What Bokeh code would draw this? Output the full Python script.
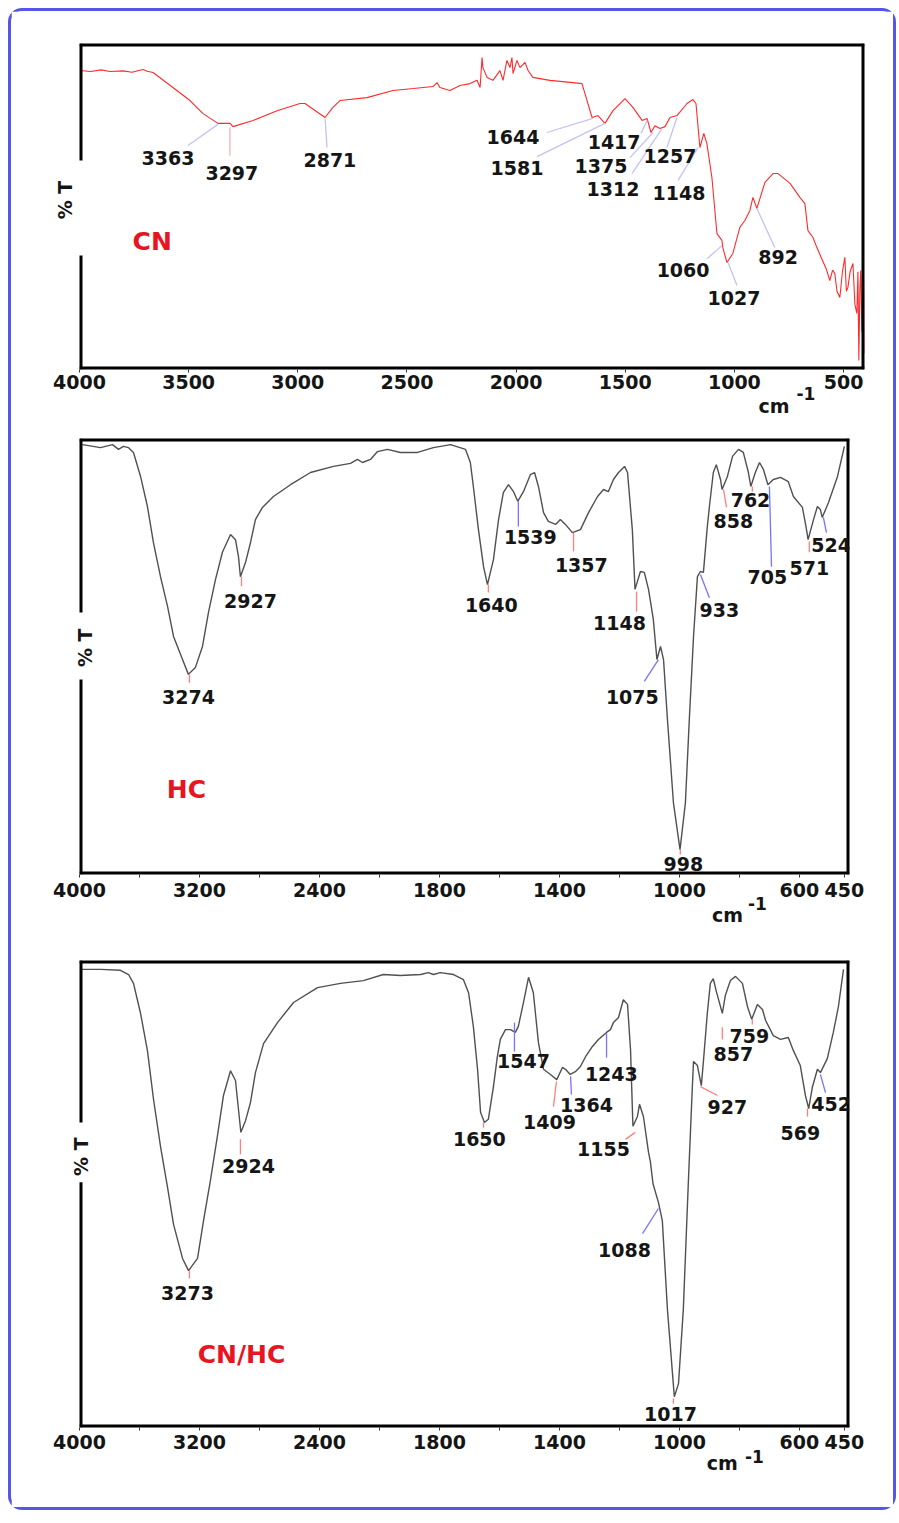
import numpy as np
from bokeh.plotting import figure
from bokeh.models import Range1d, FixedTicker, ColumnDataSource, LabelSet, Label, LinearAxis
from bokeh.layouts import column
from bokeh.core.properties import value
from bokeh.embed import file_html
from bokeh.resources import INLINE

# ---------------- data (wavenumber cm-1, %T) ----------------
cn_wn = [3998, 3950, 3900, 3860, 3800, 3760, 3709, 3690, 3663, 3572, 3494, 3434, 3366, 3310, 3297, 3205, 3095,
         2990, 2967, 2875, 2839, 2807, 2683, 2564, 2470, 2381, 2362, 2349, 2303, 2257, 2211, 2179, 2165, 2156,
         2152, 2133, 2106, 2074, 2060, 2042, 2028, 2019, 2014, 1996, 1982, 1959, 1945, 1923, 1845, 1739, 1698,
         1675, 1652, 1625, 1593, 1556, 1501, 1465, 1423, 1400, 1382, 1364, 1341, 1318, 1295, 1263, 1217, 1190,
         1176, 1158, 1140, 1126, 1103, 1080, 1057, 1053, 1034, 1007, 975, 952, 929, 915, 897, 860, 823, 800,
         745, 700, 677, 663, 640, 622, 600, 580, 563, 550, 540, 530, 517, 505, 494, 487, 480, 470, 457, 448,
         439, 434, 430, 425, 421, 416, 412, 408, 405]
cn_t = [91.7, 91.4, 91.9, 91.4, 91.6, 91.2, 92.0, 91.5, 91.1, 86.5, 82.5, 78.5, 75.5, 75.5, 74.5, 76.4, 79.4,
        81.6, 81.6, 77.3, 80.4, 82.5, 83.4, 85.6, 86.2, 86.8, 88.0, 86.5, 85.6, 87.1, 87.7, 88.7, 86.5, 95.7,
        92.6, 89.6, 88.7, 91.7, 88.7, 94.8, 92.6, 95.7, 90.8, 94.8, 92.6, 94.2, 91.7, 89.6, 88.7, 88.0, 87.7,
        82.5, 77.3, 77.9, 75.5, 79.4, 83.1, 80.4, 76.4, 77.0, 72.7, 74.8, 73.9, 74.5, 77.3, 77.9, 81.6, 82.8,
        81.6, 68.1, 72.4, 69.3, 58.9, 41.7, 39.6, 37.4, 32.8, 35.6, 43.6, 45.7, 48.8, 52.8, 49.4, 57.4, 60.1, 60.1,
        57.1, 52.8, 50.9, 42.6, 40.5, 37.4, 34.0, 31.0, 27.3, 30.5, 29.4, 24.0, 22.1, 30.0, 34.4, 24.0, 25.2, 30.0, 32.5, 20.0,
        17.2, 30.0, 2.8, 25.0, 30.4, 12.0, 11.0, 28.0, 5.0]
cn_peaks = ["3363", "3297", "2871", "1644", "1581", "1417", "1375", "1312", "1257", "1148", "1060", "1027", "892"]

hc_wn = [3980, 3860, 3780, 3740, 3707, 3673, 3640, 3593, 3547, 3507, 3460, 3413, 3373, 3313, 3274, 3227, 3180,
         3140, 3093, 3047, 2993, 2960, 2940, 2927, 2893, 2860, 2827, 2780, 2707, 2593, 2460, 2307, 2193, 2147,
         2113, 2060, 2013, 1973, 1930, 1873, 1820, 1763, 1713, 1697, 1687, 1670, 1653, 1640, 1620, 1603, 1587,
         1570, 1553, 1539, 1520, 1497, 1483, 1470, 1453, 1437, 1413, 1397, 1380, 1357, 1330, 1303, 1273, 1253,
         1237, 1220, 1203, 1183, 1173, 1157, 1148, 1130, 1117, 1103, 1087, 1075, 1063, 1053, 1040, 1020, 998,
         980, 967, 953, 940, 930, 920, 907, 900, 887, 877, 863, 858, 840, 823, 803, 787, 770, 762, 747, 733,
         720, 705, 687, 663, 637, 620, 590, 578, 571, 553, 540, 530, 524, 503, 473, 450]
hc_t = [98.6, 97.9, 98.6, 97.5, 98.2, 97.9, 96.8, 91.3, 84.4, 76.1, 68.3, 61.5, 54.6, 49.3, 45.9, 47.5, 52.3,
        60.1, 67.7, 73.9, 78.0, 76.8, 72.9, 68.3, 71.6, 76.1, 81.4, 84.2, 86.7, 89.4, 92.2, 93.6, 94.3, 95.2,
        94.5, 95.2, 97.0, 97.5, 96.8, 96.8, 97.9, 98.6, 97.5, 94.5, 89.0, 79.1, 70.6, 66.5, 72.2, 81.4, 87.6,
        89.4, 87.8, 85.6, 87.8, 91.7, 92.2, 89.0, 83.0, 81.0, 80.3, 81.4, 80.3, 78.4, 79.1, 83.0, 86.7, 88.3,
        87.8, 90.6, 92.2, 93.6, 92.2, 79.1, 65.4, 69.5, 69.3, 65.4, 58.5, 49.3, 52.3, 49.3, 35.6, 16.5, 5.7,
        16.5, 35.6, 54.6, 68.3, 69.5, 69.3, 79.8, 84.4, 92.2, 94.0, 90.6, 88.3, 91.3, 95.9, 97.5, 96.8, 92.2, 89.0, 92.2, 94.5,
        92.9, 89.4, 90.6, 91.1, 90.1, 86.7, 84.2, 79.8, 76.8, 81.4, 84.4, 83.7, 81.9, 85.3, 91.3, 98.2]
hc_peaks = ["3274", "2927", "1640", "1539", "1357", "1148", "1075", "998", "933", "858", "762", "705", "571", "524"]

cnhc_wn = [3993, 3860, 3727, 3673, 3640, 3593, 3547, 3507, 3460, 3413, 3373, 3313, 3273, 3213, 3173, 3127, 3080,
           3040, 2993, 2960, 2940, 2924, 2893, 2860, 2827, 2773, 2680, 2573, 2413, 2260, 2107, 1987, 1930, 1863,
           1837, 1820, 1797, 1753, 1720, 1703, 1687, 1673, 1663, 1650, 1637, 1620, 1607, 1597, 1580, 1563, 1547,
           1537, 1520, 1503, 1487, 1470, 1453, 1430, 1409, 1390, 1380, 1364, 1347, 1330, 1313, 1290, 1270, 1243,
           1230, 1220, 1203, 1187, 1173, 1163, 1155, 1140, 1133, 1120, 1103, 1097, 1088, 1070, 1057, 1040, 1017,
           1003, 987, 970, 957, 953, 940, 927, 920, 907, 897, 887, 877, 857, 847, 830, 813, 790, 773, 759, 740,
           723, 713, 687, 663, 637, 620, 597, 580, 569, 557, 540, 530, 507, 487, 470, 453]
cnhc_t = [98.1, 98.1, 97.9, 97.0, 95.1, 88.7, 80.7, 70.4, 60.2, 51.4, 43.5, 36.2, 33.6, 36.2, 44.3, 52.9, 62.5,
          71.1, 76.4, 74.3, 68.1, 63.2, 65.7, 69.6, 76.0, 82.2, 86.7, 91.0, 94.2, 95.1, 95.7, 97.0, 96.8, 97.0,
          97.4, 97.0, 97.4, 97.0, 95.9, 93.1, 85.9, 76.7, 67.5, 65.3, 66.0, 73.0, 79.4, 83.1, 85.2, 85.2, 84.6,
          85.9, 91.0, 96.4, 93.1, 82.4, 76.7, 75.6, 74.5, 77.1, 76.7, 75.6, 76.2, 77.3, 79.4, 81.6, 83.1, 84.6,
          85.2, 86.7, 87.8, 91.6, 90.6, 80.9, 64.5, 66.6, 69.2, 66.6, 58.9, 57.0, 52.2, 48.2, 44.3, 25.3, 6.6,
          9.4, 25.3, 52.9, 72.8, 78.4, 77.5, 73.2, 78.4, 88.7, 95.1, 96.1, 93.4, 88.7, 92.5, 95.7, 96.6, 95.1, 90.1, 87.4, 90.6,
          89.5, 87.2, 83.9, 83.1, 83.5, 80.7, 77.5, 71.1, 68.3, 72.8, 76.7, 76.0, 79.0, 84.6, 90.1, 98.1]
cnhc_peaks = ["3273", "2924", "1650", "1547", "1409", "1364", "1243", "1155", "1088", "1017", "927", "857",
              "759", "569", "452"]

ticks_linear = [4000, 3500, 3000, 2500, 2000, 1500, 1000, 500]
ticks_split = [4000, 3200, 2400, 1800, 1400, 1000, 600, 450]
minor_split = [3600, 2800, 2000, 1600, 1200, 800]

# ---------------- layout / styling (positions of annotations) ----------------
cn_label_pos = [(3595, 65.0), (3302, 60.4), (2853, 64.4), (2014, 71.2), (1996, 61.7), (1551, 69.9), (1611, 62.3),
                (1556, 55.5), (1295, 65.6), (1254, 54.0), (1235, 30.4), (1002, 21.8), (800, 34.4)]
cn_leaders = [(3503, 68.7, 3366, 75.2, "b"), (3311, 74.2, 3311, 65.6, "r"), (2875, 77.0, 2866, 68.1, "b"),
              (1859, 72.7, 1648, 77.0, "b"), (1904, 65.3, 1593, 75.5, "b"), (1428, 72.4, 1400, 76.4, "b"),
              (1478, 65.0, 1373, 72.7, "b"), (1469, 60.1, 1332, 73.9, "b"), (1309, 68.1, 1263, 77.3, "b"),
              (1258, 58.0, 1167, 68.1, "b"), (1125, 34.0, 1057, 38.0, "b"), (1029, 32.8, 988, 25.8, "b"),
              (897, 49.4, 815, 37.4, "b")]
hc_label_pos = [(3273, 40.8), (2860, 62.8), (1627, 61.9), (1497, 77.3), (1327, 70.9), (1200, 57.6), (1157, 40.8),
                (987, 2.5), (867, 60.6), (820, 81.0), (763, 85.8), (707, 68.3), (567, 70.4), (494, 75.5)]
hc_leaders = [(3267, 45.9, 3267, 44.0, "r"), (2920, 68.3, 2920, 66.1, "r"), (1637, 66.5, 1637, 64.7, "r"),
              (1537, 85.6, 1537, 79.8, "b"), (1353, 78.4, 1353, 74.1, "r"), (1143, 64.9, 1143, 60.3, "r"),
              (1070, 49.3, 1117, 44.3, "b"), (997, 5.7, 997, 4.6, "r"), (930, 68.8, 900, 63.5, "b"),
              (853, 88.3, 843, 84.2, "r"), (757, 89.0, 757, 87.8, "r"), (700, 89.0, 693, 70.6, "b"),
              (567, 76.4, 567, 73.9, "r"), (520, 81.9, 510, 78.4, "b")]
cnhc_label_pos = [(3280, 28.7), (2873, 56.1), (1667, 61.7), (1520, 78.4), (1433, 65.5), (1310, 69.0),
                  (1227, 75.8), (1253, 59.7), (1183, 38.1), (1030, 2.8), (840, 68.7), (820, 79.9), (767, 83.9),
                  (597, 63.0), (494, 69.2)]
cnhc_leaders = [(3267, 33.6, 3267, 31.9, "r"), (2927, 61.7, 2927, 58.5, "r"), (1653, 65.3, 1653, 64.2, "r"),
                (1550, 86.7, 1550, 80.5, "b"), (1410, 74.1, 1420, 68.7, "r"), (1363, 75.2, 1360, 71.3, "b"),
                (1243, 84.4, 1243, 79.2, "b"), (1147, 63.2, 1180, 61.7, "r"), (1070, 46.9, 1123, 41.5, "b"),
                (1020, 6.2, 1020, 5.1, "r"), (930, 73.0, 873, 71.1, "r"), (857, 85.7, 857, 83.1, "r"),
                (757, 87.4, 757, 86.3, "r"), (573, 68.3, 573, 66.6, "r"), (530, 75.6, 513, 71.7, "b")]

FONT = "DejaVu Sans"
TXT = "#151515"
NAME_RED = "#e8141f"


def to_u(w):
    """Instrument x-scale: 4000-2000 cm-1 compressed 2x, 2000-450 cm-1 expanded."""
    w = np.asarray(w, dtype=float)
    return np.where(w >= 2000, (4000.0 - w) / 2.0, 1000.0 + (2000.0 - w))


def ident(w):
    return np.asarray(w, dtype=float)


def text_axis(tick, label, size, standoff):
    ax = LinearAxis(ticker=FixedTicker(ticks=[tick]), major_label_overrides={tick: label})
    ax.axis_line_color = None
    ax.major_tick_line_color = None
    ax.minor_tick_line_color = None
    ax.major_tick_out = 0
    ax.major_tick_in = 0
    ax.minor_tick_out = 0
    ax.minor_tick_in = 0
    ax.major_label_standoff = standoff
    ax.major_label_text_font = FONT
    ax.major_label_text_font_style = "bold"
    ax.major_label_text_font_size = size
    ax.major_label_text_color = TXT
    return ax


def build(xmap, x_range, frame_w, frame_h, top, bottom, right, wn, t, line_color, line_w,
          ticks, minor, peaks, label_pos, leaders, lead_cols, name, name_pos, pt, gap, cm,
          standoff):
    p = figure(frame_width=frame_w, frame_height=frame_h, x_range=x_range, y_range=Range1d(0, 100),
               output_backend="svg", toolbar_location=None, min_border_left=68, min_border_right=right,
               min_border_top=top, min_border_bottom=bottom)
    p.outline_line_color = None
    p.grid.visible = False
    p.background_fill_color = "white"
    p.border_fill_color = "white"

    # wavenumber axis
    xa = p.xaxis[0]
    tick_u = [int(round(float(v))) for v in xmap(ticks)]
    minor_u = [int(round(float(v))) for v in xmap(minor)] if minor else []
    xa.ticker = FixedTicker(ticks=tick_u, minor_ticks=minor_u)
    xa.major_label_overrides = {u: str(lab) for u, lab in zip(tick_u, ticks)}
    xa.axis_line_color = None
    xa.major_tick_in = 0
    xa.major_tick_out = 3
    xa.minor_tick_in = 0
    xa.minor_tick_out = 3
    xa.major_tick_line_color = "#333333"
    xa.minor_tick_line_color = "#333333"
    xa.major_label_standoff = standoff
    xa.major_label_text_font = FONT
    xa.major_label_text_font_style = "bold"
    xa.major_label_text_font_size = "19px"
    xa.major_label_text_color = TXT

    # unit label "cm -1" as two text-only axes stacked below
    m1_tick = int(round(float(xmap([cm[2]])[0])))
    cm_tick = int(round(float(xmap([cm[0]])[0])))
    p.add_layout(text_axis(m1_tick, "-1", "17px", cm[3]), "below")
    p.add_layout(text_axis(cm_tick, "cm", "19px", cm[1]), "below")

    # "% T" as a text-only left axis
    ya = p.yaxis[0]
    ya.ticker = FixedTicker(ticks=[pt[0]])
    ya.major_label_overrides = {pt[0]: "% T"}
    ya.major_label_orientation = "parallel"
    ya.axis_line_color = None
    ya.major_tick_line_color = None
    ya.minor_tick_line_color = None
    ya.major_tick_out = 0
    ya.major_tick_in = 0
    ya.minor_tick_out = 0
    ya.major_label_standoff = pt[1]
    ya.major_label_text_font = FONT
    ya.major_label_text_font_style = "bold"
    ya.major_label_text_font_size = "19px"
    ya.major_label_text_color = TXT

    # spectrum
    p.line(xmap(wn), t, line_color=line_color, line_width=line_w)

    # frame (clipped half shows inside the frame) with the gap for "% T"
    x0, x1 = x_range.start, x_range.end
    p.segment(x0=[x0, x0, x1, x0, x0], y0=[100, 0, 0, 0, gap[1]],
              x1=[x1, x1, x1, x0, x0], y1=[100, 0, 100, gap[0], 100],
              line_color="black", line_width=6)

    # leader lines
    lsrc = ColumnDataSource(dict(
        x0=xmap([l[0] for l in leaders]), y0=[l[1] for l in leaders],
        x1=xmap([l[2] for l in leaders]), y1=[l[3] for l in leaders],
        c=[lead_cols[l[4]] for l in leaders]))
    p.segment(x0="x0", y0="y0", x1="x1", y1="y1", line_color="c", line_width=1.3, source=lsrc)

    # peak labels
    src = ColumnDataSource(dict(x=xmap([q[0] for q in label_pos]), y=[q[1] for q in label_pos], text=peaks))
    p.add_layout(LabelSet(x="x", y="y", text="text", source=src, text_font=value(FONT),
                          text_font_style="bold", text_font_size="19px", text_color=TXT,
                          text_align="center", text_baseline="middle"))

    # sample name
    p.add_layout(Label(x=float(xmap([name_pos[0]])[0]), y=name_pos[1], text=name, text_font=FONT,
                       text_font_style="bold", text_font_size="25px", text_color=NAME_RED,
                       text_align="center", text_baseline="middle"))
    return p


cols1 = {"b": "#c3c3f2", "r": "#f5b3b3"}
cols23 = {"b": "#7474ff", "r": "#ff7f7f"}

p1 = build(ident, Range1d(4000, 404), 785, 326, 32, 46, 29, cn_wn, cn_t, "#ff2b2b", 1.1,
           ticks_linear, [], cn_peaks, cn_label_pos, cn_leaders, cols1,
           "CN", (3667, 39.3), (52, 3), (35.0, 64.1), (819, -8, 672, -5), standoff=2)
p2 = build(to_u, Range1d(0, 2567), 770, 436, 19, 56, 44, hc_wn, hc_t, "#505050", 1.4,
           ticks_split, minor_split, hc_peaks, hc_label_pos, hc_leaders, cols23,
           "HC", (3287, 19.5), (52, -17), (44.7, 60.1), (840, -9, 740, -3), standoff=5)
p3 = build(to_u, Range1d(0, 2567), 770, 467, 30, 80, 44, cnhc_wn, cnhc_t, "#505050", 1.4,
           ticks_split, minor_split, cnhc_peaks, cnhc_label_pos, cnhc_leaders, cols23,
           "CN/HC", (2920, 15.6), (58, -13), (52.5, 65.3), (857, -14, 750, -2), standoff=4)

layout = column(p1, p2, p3, spacing=0,
                styles={"border": "3px solid #5555e8", "border-radius": "14px",
                        "background-color": "white", "margin-left": "8px", "margin-top": "8px"})

open("out.html", "w").write(file_html(layout, INLINE))
